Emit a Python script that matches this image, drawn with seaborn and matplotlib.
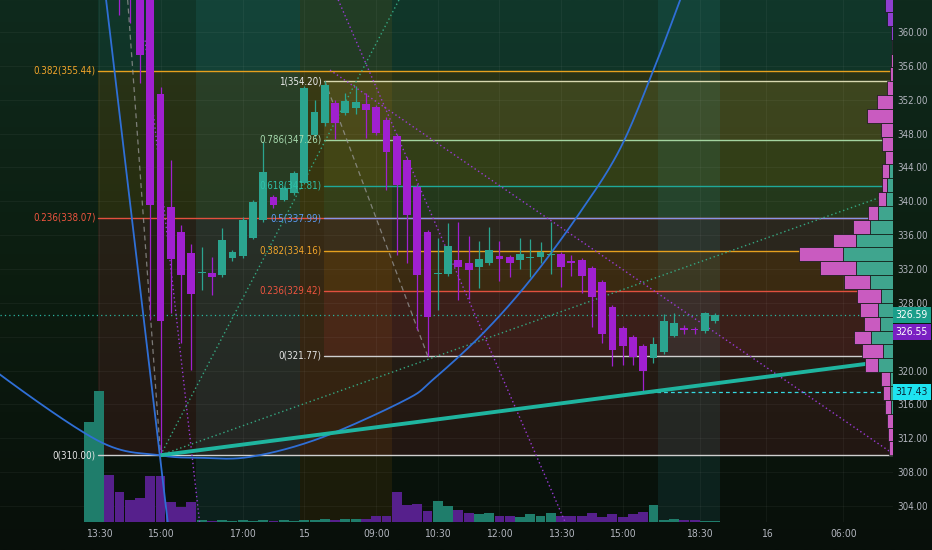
import numpy as np
import pandas as pd
import matplotlib
matplotlib.use("Agg")
import matplotlib.pyplot as plt
import matplotlib.transforms as mtransforms
from matplotlib import font_manager
from matplotlib.colors import to_rgb
import seaborn as sns

# ---------------- data ----------------
BAR_START = -5  # index of first bar (15-minute bars)
OPEN = [366.0, 368.0, 374.0, 369.0, 366.0, 368.0, 367.0, 352.7, 339.3, 336.4, 333.9, 331.5,
        331.5, 331.3, 333.3, 333.5, 335.7, 337.8, 340.5, 340.2, 341.0, 342.2, 347.8, 349.2,
        351.6, 350.4, 351.0, 351.5, 351.1, 349.6, 347.7, 344.9, 341.7, 336.4, 331.4, 331.4,
        333.1, 332.7, 332.2, 332.7, 333.5, 333.4, 333.1, 333.3, 333.4, 333.6, 333.8, 332.9,
        333.1, 332.1, 330.5, 327.5, 325.0, 324.0, 322.9, 321.5, 322.2, 324.1, 324.95, 324.85,
        324.7, 325.8]
HIGH = [372.0, 376.0, 376.0, 370.0, 367.0, 369.0, 369.0, 353.5, 344.9, 337.2, 335.0, 334.6,
        333.4, 336.8, 334.2, 338.2, 340.1, 347.0, 340.7, 341.8, 343.6, 353.6, 352.0, 354.2,
        352.0, 352.8, 353.6, 352.8, 351.4, 350.0, 348.0, 345.2, 342.0, 336.6, 335.7, 337.4,
        337.5, 335.9, 335.3, 337.0, 335.3, 333.6, 335.7, 335.6, 335.2, 337.5, 334.0, 333.6,
        333.3, 332.3, 330.7, 327.7, 325.3, 324.2, 323.1, 324.0, 326.7, 326.8, 325.4, 325.2,
        326.9, 326.8]
LOW = [365.0, 366.0, 366.0, 362.0, 361.1, 354.0, 326.0, 310.0, 326.8, 323.3, 320.1, 329.5,
       328.9, 331.0, 333.0, 333.3, 335.5, 337.6, 339.2, 340.0, 340.8, 342.0, 347.6, 348.9,
       347.4, 350.2, 350.3, 347.5, 347.8, 341.3, 333.6, 332.7, 324.8, 321.77, 327.2, 331.2,
       328.3, 328.5, 329.8, 332.5, 330.6, 331.0, 332.0, 331.0, 332.7, 331.4, 329.9, 331.2,
       329.2, 325.1, 323.2, 320.5, 320.7, 320.7, 317.43, 320.9, 322.0, 324.0, 324.3, 324.3,
       324.4, 325.6]
CLOSE = [371.0, 374.0, 368.0, 365.0, 364.5, 357.3, 339.6, 325.9, 333.2, 331.3, 329.0, 331.6,
         331.1, 335.4, 334.0, 337.8, 339.9, 343.5, 339.6, 341.6, 343.4, 353.4, 350.5, 353.7,
         349.2, 351.8, 351.7, 350.8, 348.1, 345.8, 341.9, 338.4, 331.3, 326.3, 331.5, 334.7,
         332.2, 331.9, 333.2, 334.2, 333.2, 332.7, 333.8, 333.4, 334.0, 333.7, 332.2, 332.7,
         331.2, 328.7, 324.3, 322.4, 322.9, 321.6, 320.0, 323.1, 325.9, 325.6, 324.85, 324.75,
         326.8, 326.59]
VOLUME = [1000, 1310, 470, 300, 220, 240, 460, 460, 200, 150, 200, 20, 15, 20, 15, 20, 15,
          20, 15, 20, 15, 20, 25, 30, 25, 35, 30, 30, 60, 60, 300, 170, 180, 110, 210, 160,
          120, 90, 80, 90, 60, 60, 50, 80, 60, 90, 60, 60, 60, 90, 50, 80, 50, 80, 100, 170,
          20, 30, 20, 20, 15, 15]

TIME_TICKS = [-4, 2, 10, 16, 23, 29, 35, 41, 47, 54.5, 61, 68.5]
TIME_LABELS = ["13:30", "15:00", "17:00", "15", "09:00", "10:30", "12:00", "13:30",
               "15:00", "18:30", "16", "06:00"]
PRICE_TICKS = list(range(304, 361, 4))
HIDDEN_PRICE_TICKS = [324]  # covered by the price-label box on the reference

# Fibonacci retracements
FIB1_LEVELS = [0, 0.236, 0.382]
FIB1_PRICES = [310.00, 338.07, 355.44]
FIB1_START = -4.1
FIB2_LEVELS = [0, 0.236, 0.382, 0.5, 0.618, 0.786, 1]
FIB2_PRICES = [321.77, 329.42, 334.16, 337.99, 341.81, 347.26, 354.20]
FIB2_START = 17.9

# session shading (bar-index spans)
POST_SESSIONS = [(5.45, 15.58), (50.4, 56.5)]
PRE_SESSIONS = [(15.58, 24.5)]

# drawings anchored in (bar index, price)
TREND_X, TREND_Y = [2, 73.3], [310.0, 321.2]
FAN_LINES = [([2, 26], [310.0, 365.6]), ([2, 73.3], [310.0, 341.0])]
PURPLE_LINES = [([18.5, 73.3], [355.5, 310.2]), ([19.3, 41.4], [363.8, 302.1]),
                ([0.5, 5.8], [359.0, 302.1])]
DASHED_LINES = [([-1.2, 2], [363.8, 310.0]), ([18, 28], [354.2, 321.77])]
BLUE_LINE_X, BLUE_LINE_Y = [-3.3, 2.7], [363.8, 302.1]
ARC_X = [-16.0, -13.6, -3.9, 1.9, 5.8, 10.7, 17.5, 25.8, 28.5, 33.4, 38.0, 42.8, 46.7, 50.0, 52.6, 54.0]
ARC_Y = [322.5, 319.5, 311.6, 310.0, 309.7, 309.8, 312.0, 316.5, 318.9, 324.4, 330.7, 338.6, 346.1, 355.5, 363.8, 368.5]

LAST_PRICE = 326.59
ALT_PRICE = 326.55
LOW_MARK = 317.43
LOW_MARK_START = 49

# visible-range volume profile (bins from 310.0, step 1.636)
VP_LOW, VP_STEP = 310.0, 1.636
VP_TOTAL = [4, 5, 6, 8, 10, 12, 28, 31, 39, 29, 33, 36, 49, 73, 94, 60, 40, 25, 15, 11, 11, 8,
            11, 12, 26, 16, 6, 3, 2, 1, 2, 6, 8]
VP_UP = [0, 0, 0, 2, 3, 3, 15, 10, 22, 13, 15, 12, 23, 37, 50, 37, 23, 15, 7, 6, 4, 0, 0, 0,
         0, 0, 0, 0, 0, 0, 0, 0, 0]

XLIM = (-13.63, 73.32)
YLIM = (302.11, 363.78)

# ---------------- style ----------------
sns.set_theme(style="dark")
avail = {f.name for f in font_manager.fontManager.ttflist}
FONT = "Liberation Sans Narrow" if "Liberation Sans Narrow" in avail else "DejaVu Sans"
plt.rcParams["font.family"] = [FONT, "DejaVu Sans"]
plt.rcParams["font.stretch"] = "condensed"

UP_C, DN_C = "#2ba48f", "#a020d0"
VUP_C, VDN_C = "#1f7d6b", "#56208c"
TXT_C = "#b2b5be"

W_PX, H_PX = 932, 550
fig = plt.figure(figsize=(W_PX / 100, H_PX / 100), dpi=100)


def vgrad(ax, stops, extent, z):
    n = 256
    pos = np.linspace(0, 1, len(stops))
    cols = np.array([to_rgb(c) for c in stops])
    t = np.linspace(0, 1, n)
    arr = np.stack([np.interp(t, pos, cols[:, k]) for k in range(3)], axis=1)
    ax.imshow(arr[:, None, :], aspect="auto", extent=extent, origin="upper", zorder=z,
              interpolation="bilinear")


# full-figure background
ax_bg = fig.add_axes([0, 0, 1, 1], zorder=-5)
vgrad(ax_bg, ["#0f2a1d", "#0c1d10", "#080f0a"], (0, 1, 0, 1), 0)
ax_bg.set_xlim(0, 1); ax_bg.set_ylim(0, 1); ax_bg.axis("off")

pos = [0, 28 / H_PX, 893 / W_PX, 522 / H_PX]
ax = fig.add_axes(pos, zorder=0)
ax.set_facecolor("none")
ax.set_xlim(*XLIM); ax.set_ylim(*YLIM)
for s in ax.spines.values():
    s.set_visible(False)

# fib 1 fills
fib1_fill = ["#f23645", "#ff9800", "#26a69a"]
edges1 = FIB1_PRICES + [YLIM[1] + 5]
for k in range(len(FIB1_PRICES)):
    ax.fill_between([FIB1_START, XLIM[1]], edges1[k], edges1[k + 1], color=fib1_fill[k],
                    alpha=0.11, lw=0, zorder=1)

# fib 2 fills
fib2_line = ["#cfcfcf", "#e2503f", "#e6a01e", "#8794e6", "#1fa898", "#a3d4a0", "#d8d8b0"]
fib2_text = ["#e6e6e6", "#f0553f", "#f2a52a", "#5b9cf6", "#2fbfa8", "#a8dcb0", "#ececec"]
fib2_fill = [None, "#f23645", "#ff9800", "#7c8a9a", "#10a080", "#9ccc4a", "#d8d860"]
fib2_alpha = [0, 0.11, 0.10, 0.06, 0.10, 0.10, 0.12]
for k in range(1, len(FIB2_PRICES)):
    ax.fill_between([FIB2_START, XLIM[1]], FIB2_PRICES[k - 1], FIB2_PRICES[k],
                    color=fib2_fill[k], alpha=fib2_alpha[k], lw=0, zorder=1)

# sessions
for a, b in POST_SESSIONS:
    ax.axvspan(a, b, color="#3cc8d8", alpha=0.09, lw=0, zorder=1)
for a, b in PRE_SESSIONS:
    ax.axvspan(a, b, color="#ff9800", alpha=0.08, lw=0, zorder=1)

# grid
for p in PRICE_TICKS:
    ax.axhline(p, color="white", alpha=0.045, lw=0.8, zorder=1.5)
for t in TIME_TICKS:
    ax.axvline(t, color="white", alpha=0.045, lw=0.8, zorder=1.5)

# ticks
ax.yaxis.tick_right()
ax.set_yticks(PRICE_TICKS, ["" if p in HIDDEN_PRICE_TICKS else f"{p:.2f}" for p in PRICE_TICKS])
ax.set_xticks(TIME_TICKS, TIME_LABELS)
ax.tick_params(axis="y", colors=TXT_C, labelsize=7, length=0, pad=3)
ax.tick_params(axis="x", colors=TXT_C, labelsize=7.5, length=0, pad=5)
ax.grid(False)

# ---------------- volume (seaborn) ----------------
idx = np.arange(BAR_START, BAR_START + len(OPEN))
df = pd.DataFrame({"bar": idx, "open": OPEN, "high": HIGH, "low": LOW, "close": CLOSE,
                   "volume": VOLUME})
df["dir"] = np.where(df["close"] >= df["open"], "up", "down")

axv = fig.add_axes(pos, zorder=1)
axv.set_facecolor("none")
sns.barplot(data=df, x="bar", y="volume", hue="dir", palette={"up": VUP_C, "down": VDN_C},
            native_scale=True, width=0.96, dodge=False, errorbar=None, legend=False,
            saturation=1, ax=axv, linewidth=0)
axv.set_xlim(*XLIM)
axv.set_ylim(0, 5220)
axv.axis("off")

# ---------------- candles & drawings ----------------
axt = fig.add_axes(pos, zorder=2)
axt.set_facecolor("none")
axt.set_xlim(*XLIM); axt.set_ylim(*YLIM)
axt.axis("off")

colors = np.where(df["dir"] == "up", UP_C, DN_C)
axt.vlines(df["bar"], df["low"], df["high"], colors=colors, lw=0.9, zorder=5)
body_lo = np.minimum(df["open"], df["close"])
body_h = np.maximum(np.abs(df["close"] - df["open"]), 0.15)
axt.bar(df["bar"], body_h, bottom=body_lo, width=0.76, color=colors, lw=0, zorder=6)

# fib lines & labels
for lvl, p in zip(FIB1_LEVELS, FIB1_PRICES):
    c = {0: "#cfcfcf", 0.236: "#e2503f", 0.382: "#e6a01e"}[lvl]
    tc = {0: "#e6e6e6", 0.236: "#f0553f", 0.382: "#f2a52a"}[lvl]
    axt.plot([FIB1_START, XLIM[1]], [p, p], color=c, lw=1.0, zorder=4)
    axt.text(FIB1_START - 0.2, p, f"{lvl:g}({p:.2f})", color=tc, fontsize=7,
             ha="right", va="center", zorder=8)
for k, (lvl, p) in enumerate(zip(FIB2_LEVELS, FIB2_PRICES)):
    axt.plot([FIB2_START, XLIM[1]], [p, p], color=fib2_line[k], lw=1.0, zorder=4)
    axt.text(FIB2_START - 0.2, p, f"{lvl:g}({p:.2f})", color=fib2_text[k], fontsize=7,
             ha="right", va="center", zorder=8)

# last price lines
axt.plot(XLIM, [LAST_PRICE, LAST_PRICE], color="#2bb5a0", lw=0.9, ls=(0, (1, 2.5)), zorder=4)
axt.plot([LOW_MARK_START, XLIM[1]], [LOW_MARK, LOW_MARK], color="#35d8e0", lw=0.9,
         ls=(0, (3, 2.5)), zorder=4)

# drawings
for xs, ys in FAN_LINES:
    axt.plot(xs, ys, color="#35a882", lw=1.0, ls=(0, (1, 2)), zorder=4)
for xs, ys in PURPLE_LINES:
    axt.plot(xs, ys, color="#9a3ad8", lw=1.0, ls=(0, (1, 2)), zorder=4)
for xs, ys in DASHED_LINES:
    axt.plot(xs, ys, color="#9a9a9a", lw=0.9, ls=(0, (4, 3)), alpha=0.75, zorder=4)
axt.plot(BLUE_LINE_X, BLUE_LINE_Y, color="#2f6fd6", lw=1.3, zorder=4)


def catmull_rom(xs, ys, n=30):
    P = np.column_stack([xs, ys])
    P = np.vstack([P[0], P, P[-1]])
    out = []
    t = np.linspace(0, 1, n, endpoint=False)[:, None]
    for i in range(1, len(P) - 2):
        p0, p1, p2, p3 = P[i - 1], P[i], P[i + 1], P[i + 2]
        seg = 0.5 * ((2 * p1) + (-p0 + p2) * t + (2 * p0 - 5 * p1 + 4 * p2 - p3) * t ** 2
                     + (-p0 + 3 * p1 - 3 * p2 + p3) * t ** 3)
        out.append(seg)
    out.append(P[-2][None, :])
    return np.vstack(out)


arc = catmull_rom(ARC_X, ARC_Y)
axt.plot(arc[:, 0], arc[:, 1], color="#2f6fd6", lw=1.3, zorder=4)
axt.plot(TREND_X, TREND_Y, color="#1fb5a0", lw=2.8, solid_capstyle="butt", zorder=7)

# ---------------- volume profile ----------------
axp = fig.add_axes(pos, zorder=3)
axp.set_facecolor("none")
axp.set_ylim(*YLIM)
axp.set_xlim(893, 0)
axp.axis("off")
centers = VP_LOW + (np.arange(len(VP_TOTAL)) + 0.5) * VP_STEP
tot = np.array(VP_TOTAL, float)
up = np.array(VP_UP, float)
dn_col = ["#8f3fd0" if k >= 30 else "#c95bc0" for k in range(len(VP_TOTAL))]
axp.barh(centers, up, left=0, height=VP_STEP, color="#3fa58e", edgecolor="#0e1812", lw=0.5)
axp.barh(centers, tot - up, left=up, height=VP_STEP, color=dn_col, edgecolor="#0e1812", lw=0.5)

# ---------------- price labels on axis ----------------
tr = mtransforms.blended_transform_factory(ax.transAxes, ax.transData)
box_kw = dict(boxstyle="square,pad=0.28", ec="none")
ax.text(1.003, LAST_PRICE, f"{LAST_PRICE:.2f}", transform=tr, color="white", fontsize=7.5,
        ha="left", va="center", zorder=10, bbox=dict(fc="#1a9e8a", **box_kw))
ax.text(1.003, ALT_PRICE - 2.0, f"{ALT_PRICE:.2f}", transform=tr, color="white", fontsize=7.5,
        ha="left", va="center", zorder=10, bbox=dict(fc="#7a1fc2", **box_kw))
ax.text(1.003, LOW_MARK, f"{LOW_MARK:.2f}", transform=tr, color="#0b2636", fontsize=7.5,
        ha="left", va="center", zorder=10, bbox=dict(fc="#1ee4f0", **box_kw))

fig.savefig("out.png", dpi=100, facecolor=fig.get_facecolor())
